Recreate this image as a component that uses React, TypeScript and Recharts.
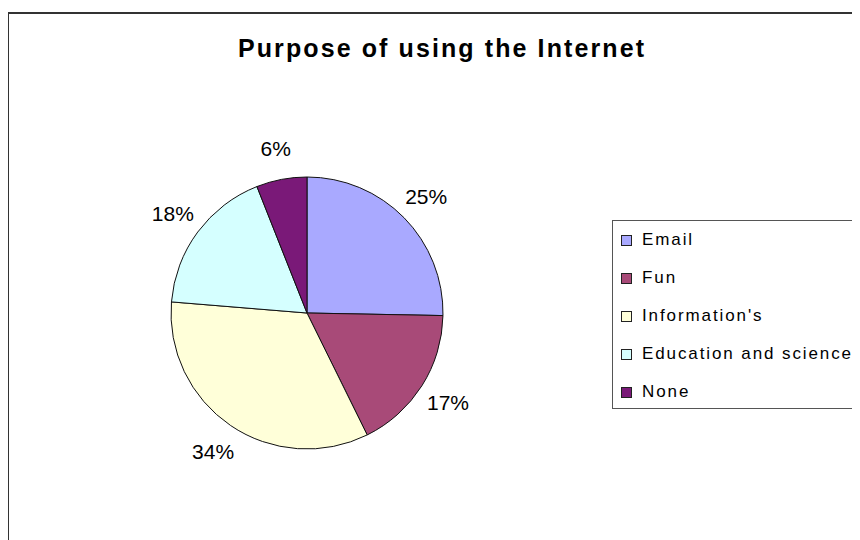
import { PieChart, Pie, Cell, Legend } from 'recharts';

// Slice shares (percent of respondents)
const categories = ['Email', 'Fun', "Information's", 'Education and science', 'None'];
const shares = [25.3, 17.4, 33.6, 17.7, 6.0];
const sliceColors = ['#A9A9FF', '#A84A78', '#FFFFD9', '#D5FFFF', '#7A1978'];

const data = categories.map((name, i) => ({ name, value: shares[i] }));

const RADIAN = Math.PI / 180;

// Percent label sitting outside the slice, centred on its mid angle
const renderLabel = (props: any) => {
  const { cx, cy, midAngle, outerRadius, percent } = props;
  const r = outerRadius + 31;
  const x = cx + r * Math.cos(-midAngle * RADIAN);
  const y = cy + r * Math.sin(-midAngle * RADIAN);
  return (
    <text
      x={x}
      y={y}
      textAnchor="middle"
      dominantBaseline="central"
      fill="#000"
      style={{ fontSize: '21px', fontFamily: 'Liberation Sans, Arial, sans-serif' }}
    >
      {`${Math.round(percent * 100)}%`}
    </text>
  );
};

// Legend keeps the data order (recharts would sort it by name)
const renderLegend = () => (
  <div
    style={{
      borderTop: '1px solid #555',
      borderLeft: '1px solid #555',
      borderBottom: '1px solid #555',
      background: '#fff',
      width: 300,
      height: 189,
      boxSizing: 'border-box',
      overflow: 'hidden',
    }}
  >
    {categories.map((name, i) => (
      <div key={name} style={{ display: 'flex', alignItems: 'center', height: 38 }}>
        <div
          style={{
            width: 9,
            height: 9,
            marginLeft: 8,
            marginRight: 10,
            border: '1px solid #222',
            backgroundColor: sliceColors[i],
          }}
        />
        <span style={{ fontSize: '17px', letterSpacing: '1.9px', color: '#000' }}>{name}</span>
      </div>
    ))}
  </div>
);

export default function App() {
  return (
    <div
      style={{
        position: 'relative',
        width: 860,
        height: 548,
        margin: '-8px 0 -8px -8px',
        overflow: 'hidden',
        background: '#fff',
        fontFamily: 'Liberation Sans, Arial, sans-serif',
      }}
    >
      {/* chart area frame, only top and left edges visible */}
      <div
        style={{
          position: 'absolute',
          left: 7,
          top: 12,
          width: 900,
          height: 600,
          borderLeft: '2px solid #333',
          borderTop: '2px solid #333',
        }}
      />
      <div
        style={{
          position: 'absolute',
          left: 0,
          top: 34,
          width: 884,
          textAlign: 'center',
          fontSize: '25px',
          fontWeight: 'bold',
          letterSpacing: '2.1px',
          color: '#000',
        }}
      >
        Purpose of using the Internet
      </div>
      <div style={{ position: 'absolute', left: 0, top: 0 }}>
        <PieChart width={860} height={548} margin={{ top: 0, right: 0, bottom: 0, left: 0 }}>
          <Pie
            data={data}
            dataKey="value"
            nameKey="name"
            cx={307}
            cy={313}
            outerRadius={136}
            startAngle={90}
            endAngle={-270}
            stroke="#111"
            strokeWidth={1}
            label={renderLabel}
            labelLine={false}
            isAnimationActive={false}
          >
            {data.map((entry, i) => (
              <Cell key={entry.name} fill={sliceColors[i]} />
            ))}
          </Pie>
          <Legend
            content={renderLegend}
            layout="vertical"
            wrapperStyle={{ position: 'absolute', left: 612, top: 220, width: 300 }}
          />
        </PieChart>
      </div>
    </div>
  );
}
